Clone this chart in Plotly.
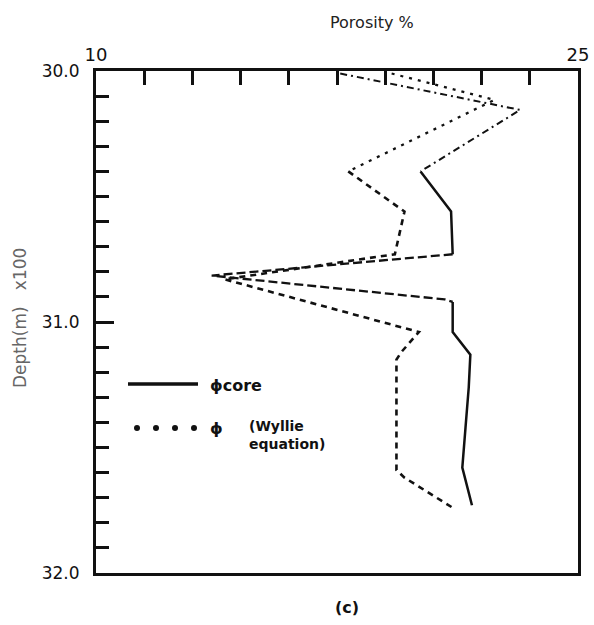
import plotly.graph_objects as go

# ---- data ----
core_depth = [30.01, 30.155, 30.40, 30.56, 30.73, 30.815, 30.91, 30.92, 31.04, 31.13, 31.26, 31.42, 31.58, 31.73]
core_poro = [17.6, 23.2, 20.1, 21.05, 21.1, 13.6, 20.85, 21.1, 21.1, 21.65, 21.6, 21.5, 21.4, 21.7]

wyllie_depth = [30.01, 30.115, 30.40, 30.56, 30.73, 30.83, 31.04, 31.12, 31.15, 31.59, 31.62, 31.74]
wyllie_poro = [19.2, 22.4, 17.85, 19.6, 19.3, 14.0, 20.05, 19.5, 19.35, 19.35, 19.6, 21.1]

x_range = [10, 25]
y_range = [32.0, 30.0]
x_tick_labels = ["10", "25"]

FONT = "DejaVu Sans"
INK = "#111111"

fig = go.Figure()

# core porosity: faded dash-dot top, solid body, dashed spike (as in the scan)
core_segments = [
    (slice(0, 3), "7px,4px,2px,4px", 2.0),
    (slice(2, 5), "solid", 2.5),
    (slice(4, 8), "9px,4px", 2.3),
    (slice(7, None), "solid", 2.5),
]
for sl, dash, w in core_segments:
    fig.add_trace(go.Scatter(
        x=core_poro[sl], y=core_depth[sl], mode="lines",
        line=dict(color=INK, width=w, dash=dash), showlegend=False,
        hoverinfo="skip"))

# Wyllie porosity: dotted top, dashed body
wyllie_segments = [
    (slice(0, 3), "3px,6px", 2.3),
    (slice(2, None), "6px,5px", 2.6),
]
for sl, dash, w in wyllie_segments:
    fig.add_trace(go.Scatter(
        x=wyllie_poro[sl], y=wyllie_depth[sl], mode="lines",
        line=dict(color=INK, width=w, dash=dash), showlegend=False,
        hoverinfo="skip"))

L, R, T, B = 96, 16, 71, 52
W, H = 594, 625
pw, ph = W - L - R, H - T - B


def px(xp):
    return (xp - L) / pw


def py(yp):
    return (H - B - yp) / ph


# legend drawn by hand (long sample line + big dots)
shapes = [dict(type="line", xref="paper", yref="paper",
               x0=px(128), x1=px(198), y0=py(384), y1=py(384),
               line=dict(color=INK, width=3.5))]
for xd in [137, 156, 175, 194]:
    shapes.append(dict(type="circle", xref="paper", yref="paper",
                       xsizemode="pixel", ysizemode="pixel",
                       xanchor=px(xd), yanchor=py(428),
                       x0=-3, x1=3, y0=-3, y1=3,
                       fillcolor=INK, line=dict(color=INK, width=0)))

annotations = [
    dict(text="<b>ϕcore</b>", x=px(208), y=py(385), xref="paper", yref="paper",
         xanchor="left", yanchor="middle", showarrow=False,
         font=dict(family=FONT, size=16, color=INK)),
    dict(text="<b>ϕ</b>", x=px(208), y=py(428), xref="paper", yref="paper",
         xanchor="left", yanchor="middle", showarrow=False,
         font=dict(family=FONT, size=16, color=INK)),
    dict(text="<b>(Wyllie<br>equation)</b>", x=px(247), y=py(435), xref="paper", yref="paper",
         xanchor="left", yanchor="middle", showarrow=False, align="left",
         font=dict(family=FONT, size=14, color=INK)),
    dict(text="Porosity %", x=px(372), y=py(22), xref="paper", yref="paper",
         xanchor="center", yanchor="middle", showarrow=False,
         font=dict(family=FONT, size=16, color="#222222")),
    dict(text="Depth(m)   x100", x=px(20), y=py(318), xref="paper", yref="paper",
         xanchor="center", yanchor="middle", showarrow=False, textangle=-90,
         font=dict(family=FONT, size=17, color="#666666")),
    dict(text="<b>(c)</b>", x=px(347), y=py(607), xref="paper", yref="paper",
         xanchor="center", yanchor="middle", showarrow=False,
         font=dict(family=FONT, size=16, color=INK)),
]

fig.update_layout(
    width=W, height=H,
    margin=dict(l=L, r=R, t=T, b=B, pad=0, autoexpand=False),
    paper_bgcolor="white", plot_bgcolor="white",
    showlegend=False,
    shapes=shapes,
    annotations=annotations,
    xaxis=dict(
        range=x_range, side="top", showgrid=False, zeroline=False,
        automargin=False,
        showline=True, linecolor=INK, linewidth=3, mirror=True,
        tickmode="array", tickvals=x_range, ticktext=x_tick_labels,
        ticks="inside", ticklen=14, tickwidth=3, tickcolor=INK,
        tickfont=dict(family=FONT, size=18, color=INK),
        minor=dict(tickmode="linear", tick0=10, dtick=1.5, ticks="inside",
                   ticklen=14, tickwidth=3, tickcolor=INK, showgrid=False),
    ),
    yaxis=dict(
        range=y_range, showgrid=False, zeroline=False,
        automargin=False,
        showline=True, linecolor=INK, linewidth=3, mirror=True,
        tickmode="linear", tick0=30, dtick=1, tickformat=".1f",
        ticks="inside", ticklen=18, tickwidth=3, tickcolor=INK,
        ticklabelstandoff=10,
        tickfont=dict(family=FONT, size=17, color=INK),
        minor=dict(tickmode="linear", tick0=30, dtick=0.1, ticks="inside",
                   ticklen=13, tickwidth=3, tickcolor=INK, showgrid=False),
    ),
)

# remove the browser's default 8px body margin so the figure fills the window
fig.write_html("out.html", config={"displayModeBar": False},
               post_script="document.body.style.margin='0';")
